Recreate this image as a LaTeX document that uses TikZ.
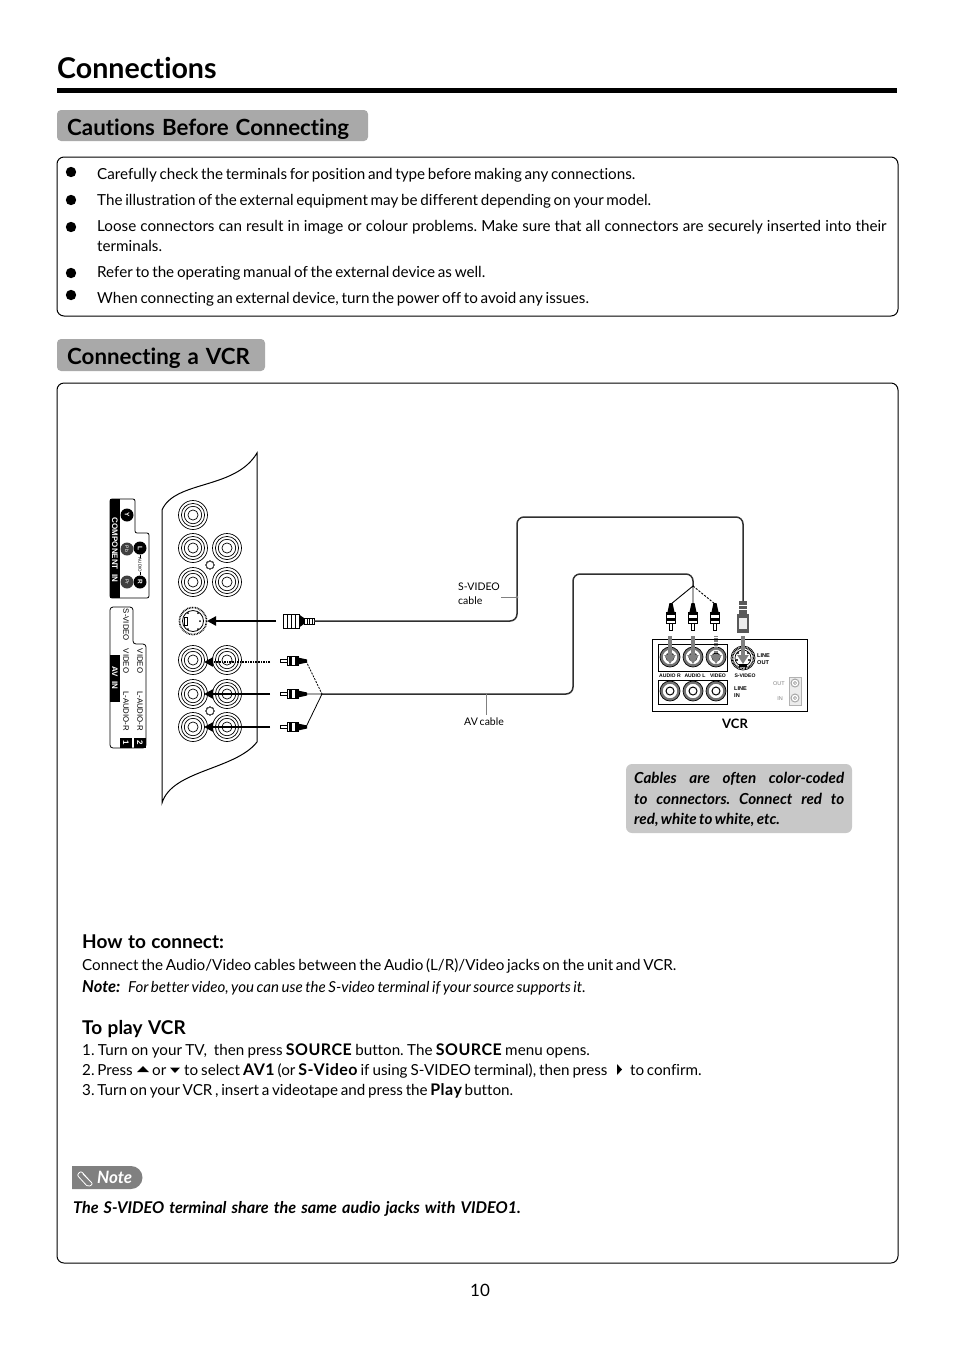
\documentclass[tikz,border=0pt]{standalone}
\usepackage{fontspec}
\setmainfont[Ligatures=NoCommon,WordSpace=0.7]{Lato}
\newfontfamily\labelfont{Liberation Sans}
\usetikzlibrary{positioning, arrows.meta}
\definecolor{mygray}{HTML}{A9A9A9}
\definecolor{myboxgray}{HTML}{C8C8C8}
\definecolor{mycable}{HTML}{303030}
\newcommand{\wordgap}[1]{\spaceskip #1pt\relax}
\tikzset{
	bodytext/.style={anchor=base west, inner sep=0pt, font=\fontsize{15.2}{18}\selectfont},
	headtext/.style={anchor=base west, inner sep=0pt, font=\fontsize{19}{22}\selectfont\bfseries\wordgap{5.5}},
	banner/.style={anchor=base west, inner sep=0pt, font=\fontsize{22.3}{26}\selectfont\bfseries\wordgap{7}},
	bannerbox/.style={fill=mygray, rounded corners=4pt},
	framebox/.style={draw=black, line width=1pt, rounded corners=7pt},
	smalltext/.style={anchor=base west, inner sep=0pt, font=\fontsize{10.5}{12}\selectfont},
	tinybold/.style={inner sep=0pt, font=\labelfont\fontsize{5.6}{6.5}\selectfont\bfseries},
	sidetext/.style={inner sep=0pt, rotate=-90, font=\labelfont\fontsize{7.8}{8}\selectfont},
	sideblack/.style={inner sep=0pt, rotate=-90, text=white, font=\labelfont\fontsize{8}{8}\selectfont\bfseries},
	tvarrow/.style={line width=2.6pt, -{Triangle[length=9pt,width=9pt]}},
	vcrarrow/.style={line width=3.6pt, gray, -{Triangle[length=9pt,width=11pt]}},
	cable/.style={line width=1.5pt, mycable, rounded corners=7pt},
	leader/.style={line width=0.7pt, gray}
}
\tikzset{
	pics/rcaplug/.style={code={
		\draw[line width=0.7pt, fill=white] (0,-1.6) rectangle (7,1.6);
		\draw[line width=0.7pt, fill=white] (7,-4.5) rectangle (18,4.5);
		\fill (9,-4.5) rectangle (12,4.5);
		\fill (15,-4.5) rectangle (18,4.5);
		\fill (18,-3.5) -- (27,-1.5) -- (27,1.5) -- (18,3.5) -- cycle;
	}},
	pics/svplug/.style={code={
		\draw[line width=0.8pt, fill=white] (0,-7) rectangle (16,7);
		\foreach \t in {4,8,12} \draw[line width=0.8pt] (\t,-7) -- (\t,7);
		\fill (16,-6.5) -- (21,-3) -- (21,3) -- (16,6.5) -- cycle;
		\draw[line width=0.7pt, fill=white] (21,-3) rectangle (31,3);
		\foreach \t in {24,26.5,29} \draw[line width=0.6pt] (\t,-3) -- (\t,3);
	}},
	pics/vsplug/.style={code={
		\fill[gray!70!black] (0,-6) rectangle (19,6);
		\fill[white!85!gray] (4,-4) rectangle (15,4);
		\fill[gray!70!black] (19,-3.8) rectangle (32,3.8);
		\foreach \t in {23,27} \fill[white] (\t,-3.8) rectangle (\t+1.5,3.8);
	}}
}
% concentric rings of a round jack
\newcommand{\ringjack}[3]{
	\draw[line width=0.7pt] (#1,#2) circle (#3);
	\draw[line width=0.7pt] (#1,#2) circle (0.8*#3);
	\draw[line width=0.7pt] (#1,#2) circle (0.6*#3);
	\draw[line width=0.7pt] (#1,#2) circle (0.35*#3);
}
\newcommand{\vcrjack}[2]{
	\draw[line width=2.6pt, gray!90!black] (#1,#2) circle (8.6);
	\draw[line width=0.7pt] (#1,#2) circle (10);
	\draw[line width=1pt] (#1,#2) circle (4);
}
\newcommand{\srcb}[1]{{\fontsize{16}{18}\selectfont\bfseries\addfontfeature{LetterSpace=3}#1}}
\begin{document}
\frenchspacing
\begin{tikzpicture}[x=1pt,y=-1pt]
	\useasboundingbox (0,0) rectangle (954,1350);
	% title
	\node[anchor=base west, inner sep=0pt, font=\fontsize{28.6}{32}\selectfont\bfseries] (title) at (57,78) {Connections};
	\fill (57,88) rectangle (897,93);
	% first section
	\fill[bannerbox] (57,110) rectangle (368,141);
	\node[banner] (cautions) at (67,135) {Cautions Before Connecting};
	\draw[framebox] (57,157) rectangle (898,316);
	\foreach \y in {172,200,227,273,295}
		\fill (71,\y) circle (5.2);
	\node[bodytext] (ca) at (97,179) {Carefully check the terminals for position and type before making any connections.};
	\node[bodytext] (cb) at (97,205) {The illustration of the external equipment may be different depending on your model.};
	\node[bodytext] (cc) at (97,231) {\wordgap{4.15}Loose connectors can result in image or colour problems. Make sure that all connectors are securely inserted into their};
	\node[bodytext] (cd) at (97,251) {terminals.};
	\node[bodytext] (ce) at (97,277) {Refer to the operating manual of the external device as well.};
	\node[bodytext] (cf) at (97,303) {When connecting an external device, turn the power off to avoid any issues.};
	% second section
	\fill[bannerbox] (57,339) rectangle (265,371);
	\node[banner] (vcrhead) at (67,364) {Connecting a VCR};
	\draw[framebox] (57,383) rectangle (898,1263);
	% tv panel
	\draw[line width=1pt] (257,742) -- (257,453) .. controls (235,490) and (175,480) .. (162,510) -- (162,803) .. controls (172,770) and (235,770) .. (257,742);
	\foreach \x/\y in {193/515, 193/548, 227/548, 193/582, 227/582, 193/660, 227/660, 193/694, 227/694, 193/727, 227/727}
		\ringjack{\x}{\y}{14.5}
	\foreach \y in {565,711}
		\draw[line width=0.5pt, black!70] (210,\y) circle (4);
	% s-video socket on the tv
	\draw[line width=1.6pt, dash pattern=on 0.8pt off 0.8pt] (193,621) circle (13.5);
	\draw[line width=0.8pt] (193,621) circle (10.5);
	\foreach \x/\y in {188/613, 198/613, 200/621, 188/629, 198/629}
		\fill (\x,\y) circle (1);
	\draw[line width=0.8pt] (187,617) rectangle (184,625);
	% component label
	\draw[line width=0.8pt, rounded corners=2pt] (110,499) -- (135,499) -- (135,533) -- (149,533) -- (149,598) -- (110,598) -- cycle;
	\fill (110,499) rectangle (120,598);
	\node[sideblack] (component) at (115,550) {COMPONENT\ \ IN};
	\foreach \x/\y/\l in {127/515/Y, 140/548/L, 140/582/R}
		\node[circle, fill=black, text=white, minimum size=13pt, inner sep=0pt, rotate=-90, font=\labelfont\fontsize{6.5}{6}\selectfont\bfseries] (jack\l) at (\x,\y) {\l};
	\foreach \x/\y/\l in {127/549/Pb, 127/582/Pr}
		\node[circle, fill=black!75, text=white, minimum size=13pt, inner sep=0pt, rotate=-90, font=\labelfont\fontsize{5}{5}\selectfont] (jack\l) at (\x,\y) {\l};
	\draw[line width=0.5pt] (jackL) -- (jackR);
	\node[sidetext, fill=white, inner ysep=1pt, font=\labelfont\fontsize{4.5}{5}\selectfont] (audiotag) at (140,565) {AUDIO};
	% av in label
	\draw[line width=0.8pt, rounded corners=3pt] (110,748) -- (110,607) -- (133,607) -- (133,644) -- (146,644) -- (146,748) -- cycle;
	\fill (110,655) rectangle (120,702);
	\node[sideblack] (avin) at (115,678) {AV\ \ IN};
	\node[sidetext] (svlabel) at (126,625) {S-VIDEO};
	\node[sidetext] (vidone) at (126,661) {VIDEO};
	\node[sidetext] (vidtwo) at (140,661) {VIDEO};
	\node[sidetext] (audone) at (126,711) {L-AUDIO-R};
	\node[sidetext] (audtwo) at (140,711) {L-AUDIO-R};
	\fill (120,738) rectangle (132,748);
	\fill (134,738) rectangle (146,748);
	\node[sideblack] (numone) at (126,743) {1};
	\node[sideblack] (numtwo) at (140,743) {2};
	% plugs and arrows at the tv
	\draw[tvarrow] (276,621) -- (207,621);
	\draw[tvarrow, dash pattern=on 1.6pt off 1pt] (270,662) -- (204,662);
	\draw[tvarrow] (270,694) -- (204,694);
	\draw[tvarrow] (270,727) -- (204,727);
	\pic at (283,621) {svplug};
	\foreach \y in {661,694,727}
		\pic at (280,\y) {rcaplug};
	\coordinate (svtv) at (314,621);
	\coordinate (rcaa) at (306,661);
	\coordinate (rcab) at (306,694);
	\coordinate (rcac) at (306,727);
	\coordinate (avjoin) at (322,694);
	\draw[line width=0.8pt, dash pattern=on 2pt off 1.2pt] (rcaa) -- (avjoin);
	\draw[line width=0.8pt] (rcab) -- (avjoin) -- (rcac);
	% vcr
	\draw[line width=0.8pt] (652,639) rectangle (807,711);
	\draw[line width=0.8pt] (658,644) rectangle (727,671);
	\draw[line width=0.8pt] (658,680) rectangle (727,704);
	\foreach \x in {670,693,716} {
		\vcrjack{\x}{657}
		\vcrjack{\x}{691}
	}
	\draw[line width=1.6pt, dash pattern=on 0.8pt off 0.7pt] (743,658) circle (10.5);
	\draw[line width=0.7pt] (743,658) circle (12);
	\draw[line width=0.7pt] (743,658) circle (8);
	\fill (739,664) rectangle (747,667);
	\foreach \x/\y in {738/653, 748/653, 737/660, 749/660}
		\fill (\x,\y) circle (1.2);
	\node[tinybold, font=\labelfont\fontsize{5.1}{6}\selectfont\bfseries] (audr) at (670,675.5) {AUDIO R};
	\node[tinybold, font=\labelfont\fontsize{5.1}{6}\selectfont\bfseries] (audl) at (695,675.5) {AUDIO L};
	\node[tinybold, font=\labelfont\fontsize{5.1}{6}\selectfont\bfseries] (vidv) at (718,675.5) {VIDEO};
	\node[tinybold, font=\labelfont\fontsize{5.1}{6}\selectfont\bfseries] (svv) at (745,675.5) {S-VIDEO};
	\node[tinybold, align=left, anchor=west] (lineout) at (757,659) {LINE\\OUT};
	\node[tinybold, align=left, anchor=west] (linein) at (734,692) {LINE\\IN};
	\node[tinybold, text=gray, font=\labelfont\fontsize{5.5}{6}\selectfont] (outtag) at (779,683.5) {OUT};
	\node[tinybold, text=gray, font=\labelfont\fontsize{5.5}{6}\selectfont] (intag) at (780,698.5) {IN};
	\draw[line width=0.5pt, gray!60, fill=gray!15] (789,677) rectangle (801,705);
	\foreach \y in {683,698} {
		\draw[line width=1pt, gray!70, fill=white] (795,\y) circle (4);
		\draw[line width=0.5pt, gray] (795,\y) circle (1.6);
	}
	\foreach \x in {671,693,715}
		\pic at (\x,630) [rotate=90] {rcaplug};
	\pic at (743,633) [rotate=90] {vsplug};
	\draw[vcrarrow] (670,636) -- (670,664);
	\draw[vcrarrow] (693,636) -- (693,664);
	\draw[vcrarrow, dash pattern=on 1.2pt off 1pt] (716,636) -- (716,664);
	\draw[vcrarrow] (743,636) -- (743,664);
	\node[inner sep=0pt, font=\fontsize{13}{15}\selectfont\bfseries] (vcrname) at (735,724) {VCR};
	% cables
	\coordinate (svvcr) at (743,601);
	\coordinate (avsplit) at (693,586);
	\coordinate (rcar) at (671,604);
	\coordinate (rcal) at (693,604);
	\coordinate (rcav) at (715,604);
	\draw[cable] (svtv) -- (517,621) -- (517,517) -- (743,517) -- (svvcr);
	\draw[cable] (avjoin) -- (573,694) -- (573,574) -- (693,574) -- (avsplit);
	\draw[line width=0.9pt] (rcar) -- (avsplit) -- (rcal);
	\draw[line width=0.9pt, dash pattern=on 2.2pt off 1.4pt] (avsplit) -- (rcav);
	% cable labels
	\node[smalltext] (svcable) at (458,590) {S-VIDEO};
	\node[smalltext] (svcabletwo) at (458,604) {cable};
	\coordinate (svdot) at (517,597);
	\coordinate (avdot) at (486,693);
	\draw[leader] (svdot) -- (501,597);
	\fill[gray] (svdot) circle (1.5);
	\node[smalltext] (avcable) at (464,725) {AV cable};
	\draw[leader] (avdot) -- (486,715);
	% colour note
	\fill[myboxgray, rounded corners=6pt] (626,764) rectangle (852,833);
	\node[anchor=north west, inner sep=0pt, text width=210pt, align=justify, font=\fontsize{15.2}{20.5}\selectfont\bfseries\itshape] (colornote) at (634,772) {Cables are often color-coded\linebreak to connectors. Connect red to\linebreak red, white to white, etc.};
	% how to connect
	\node[headtext] (howto) at (82,948) {How to connect:};
	\node[bodytext] (howa) at (82,970) {Connect the Audio/Video cables between the Audio (L/R)/Video jacks on the unit and VCR.};
	\node[bodytext, font=\fontsize{16.5}{18}\selectfont\bfseries\itshape] (howb) at (82,992) {Note:};
	\node[bodytext, font=\fontsize{15.1}{18}\selectfont\itshape] (howc) at (128,992) {For better video, you can use the S-video terminal if your source supports it.};
	% to play
	\node[headtext] (playhead) at (82,1034) {To play VCR};
	\node[bodytext] (playa) at (82,1055) {\wordgap{3.4}1. Turn on your TV,\ \ then press \srcb{SOURCE} button. The \srcb{SOURCE} menu opens.};
	\node[bodytext] (playb) at (82,1075) {2. Press};
	\fill (137,1072) -- (143,1066) -- (149,1072) -- cycle;
	\node[bodytext] (playc) at (152,1075) {or};
	\fill (170,1067.5) -- (180,1067.5) -- (175,1073) -- cycle;
	\node[bodytext] (playd) at (184,1075) {\wordgap{3}to select \srcb{AV1} (or \srcb{S-Video} if using S-VIDEO terminal), then press};
	\fill (617,1064) -- (622,1069.5) -- (617,1075) -- cycle;
	\node[bodytext] (playe) at (630,1075) {to confirm.};
	\node[bodytext] (playf) at (82,1095) {3. Turn on your VCR , insert a videotape and press the \srcb{Play} button.};
	% note tag
	\fill[gray] (72,1166) -- (131,1166) arc[start angle=-90, end angle=90, radius=11.5] -- (72,1189) -- cycle;
	\draw[white, line width=0.8pt, rounded corners=2pt] (90,1181) -- (81,1171) -- (77,1175) -- (88,1187) -- (93,1184) -- (83,1174);
	\node[anchor=base west, inner sep=0pt, text=white, font=\fontsize{17}{18}\selectfont\bfseries\itshape] (notetag) at (97,1183) {Note};
	\node[bodytext, font=\fontsize{16.2}{18}\selectfont\bfseries\itshape\wordgap{5}] (notetext) at (73,1213) {The S-VIDEO terminal share the same audio jacks with VIDEO1.};
	% page number
	\node[inner sep=0pt, font=\fontsize{17}{20}\selectfont] (pagenum) at (480,1290) {10};
\end{tikzpicture}
\end{document}
